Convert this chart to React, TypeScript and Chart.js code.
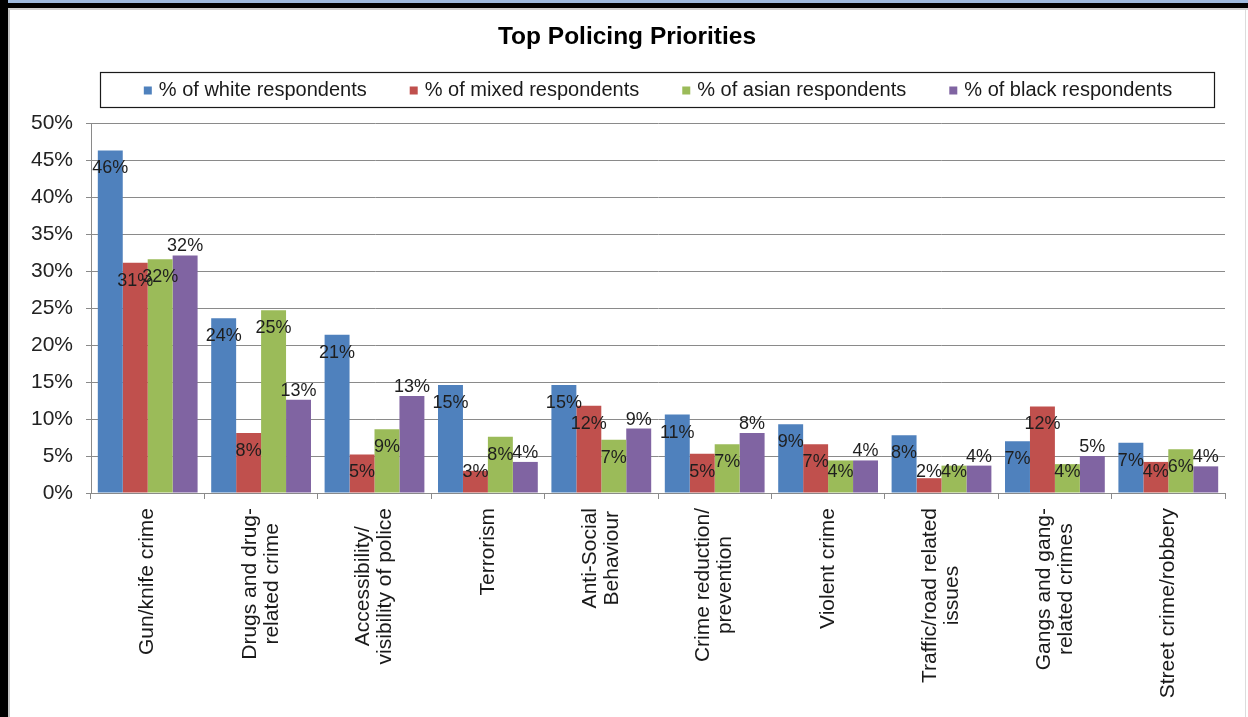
import React, { useEffect, useRef } from "react";
import { Chart, registerables } from "chart.js";

Chart.register(...registerables);

const titleText = "Top Policing Priorities";

const categories: (string | string[])[] = [
  "Gun/knife crime",
  ["Drugs and drug-", "related crime"],
  ["Accessibility/", "visibility of police"],
  "Terrorism",
  ["Anti-Social", "Behaviour"],
  ["Crime reduction/", "prevention"],
  "Violent crime",
  ["Traffic/road related", "issues"],
  ["Gangs and gang-", "related crimes"],
  "Street crime/robbery",
];

const seriesNames = [
  "% of white respondents",
  "% of mixed respondents",
  "% of asian respondents",
  "% of black respondents",
];

const whiteValues = [46.3, 23.6, 21.4, 14.6, 14.6, 10.6, 9.3, 7.8, 7.0, 6.8];
const mixedValues = [31.1, 8.1, 5.2, 3.0, 11.8, 5.3, 6.6, 2.0, 11.7, 4.2];
const asianValues = [31.6, 24.7, 8.6, 7.6, 7.2, 6.6, 4.4, 3.7, 3.9, 5.9];
const blackValues = [32.1, 12.6, 13.1, 4.2, 8.7, 8.1, 4.4, 3.7, 5.0, 3.6];

const yTickValues = [0, 5, 10, 15, 20, 25, 30, 35, 40, 45, 50];

const seriesColors = ["#4F81BD", "#C0504D", "#9BBB59", "#8064A2"];
const labelAnchors = ["inside", "inside", "inside", "outside"];

const FONT = '"Liberation Sans", Arial, sans-serif';

const dataLabelPlugin = {
  id: "dataLabels",
  afterDatasetsDraw(chart: any) {
    const ctx = chart.ctx;
    ctx.save();
    ctx.font = `18px ${FONT}`;
    ctx.fillStyle = "#1e1e1e";
    ctx.textAlign = "center";
    ctx.textBaseline = "middle";
    chart.data.datasets.forEach((ds: any, di: number) => {
      const meta = chart.getDatasetMeta(di);
      meta.data.forEach((bar: any, i: number) => {
        const v = ds.data[i];
        const y =
          ds.labelAnchor === "outside"
            ? bar.y - 9
            : Math.min(bar.y + 18, bar.base - 20);
        ctx.fillText(Math.round(v) + "%", bar.x, y);
      });
    });
    ctx.restore();
  },
};

const xLabelPlugin = {
  id: "xLabels",
  afterDraw(chart: any) {
    const { ctx } = chart;
    const sx = chart.scales.x;
    ctx.save();
    ctx.font = `21px ${FONT}`;
    ctx.fillStyle = "#1a1a1a";
    ctx.textAlign = "center";
    ctx.textBaseline = "middle";
    const lh = 22;
    chart.data.labels.forEach((lab: any, i: number) => {
      const lines: string[] = Array.isArray(lab) ? lab : [lab];
      const maxW = Math.max(...lines.map((l) => ctx.measureText(l).width));
      const x = sx.getPixelForTick(i);
      const top = sx.top + 15;
      ctx.save();
      ctx.translate(x, top + maxW / 2);
      ctx.rotate(-Math.PI / 2);
      lines.forEach((l, j) => {
        ctx.fillText(l, 0, (j - (lines.length - 1) / 2) * lh);
      });
      ctx.restore();
    });
    ctx.restore();
  },
};

const boxLegendPlugin = {
  id: "boxLegend",
  afterDraw(chart: any) {
    const { ctx, chartArea } = chart;
    const left = chartArea.left + 9;
    const right = chartArea.right - 11;
    const top = chartArea.top - 51;
    const bottom = chartArea.top - 16;
    ctx.save();
    ctx.strokeStyle = "#1a1a1a";
    ctx.lineWidth = 1.2;
    ctx.strokeRect(left + 0.5, top + 0.5, right - left, bottom - top);
    ctx.font = `20px ${FONT}`;
    ctx.textBaseline = "middle";
    ctx.textAlign = "left";
    const marker = 8;
    const markerGap = 7;
    const itemGap = 43;
    const items = chart.data.datasets.map((ds: any) => ({
      text: ds.label,
      color: ds.backgroundColor,
      w: marker + markerGap + ctx.measureText(ds.label).width,
    }));
    const total =
      items.reduce((s: number, it: any) => s + it.w, 0) +
      itemGap * (items.length - 1);
    let x = (chartArea.left + chartArea.right) / 2 - total / 2;
    const cy = (top + bottom) / 2 + 1;
    items.forEach((it: any) => {
      ctx.fillStyle = it.color;
      ctx.fillRect(x, cy - marker / 2, marker, marker);
      ctx.fillStyle = "#1a1a1a";
      ctx.fillText(it.text, x + marker + markerGap, cy);
      x += it.w + itemGap;
    });
    ctx.restore();
  },
};

export default function App() {
  const canvasRef = useRef<HTMLCanvasElement | null>(null);

  useEffect(() => {
    if (!canvasRef.current) return;
    const valueSets = [whiteValues, mixedValues, asianValues, blackValues];
    const chart = new Chart(canvasRef.current, {
      type: "bar",
      data: {
        labels: categories,
        datasets: seriesNames.map((name, i) => ({
          label: name,
          data: valueSets[i],
          backgroundColor: seriesColors[i],
          borderWidth: 0,
          categoryPercentage: 0.88,
          barPercentage: 1.0,
          labelAnchor: labelAnchors[i],
        })) as any,
      },
      options: {
        responsive: false,
        animation: false,
        layout: { padding: { left: 19, right: 19, top: 0, bottom: 0 } },
        plugins: {
          legend: { display: false },
          tooltip: { enabled: false },
          title: {
            display: true,
            text: titleText,
            color: "#000",
            font: { family: FONT, size: 24.5, weight: "bold", lineHeight: 1.2 },
            padding: { top: 13, bottom: 70.6 },
          },
        },
        scales: {
          x: {
            grid: {
              offset: true,
              drawOnChartArea: false,
              drawTicks: true,
              tickLength: 6,
              color: "#8a8a8a",
            },
            border: { display: true, color: "#8a8a8a" },
            ticks: {
              display: false,
              autoSkip: false,
            },
            afterFit: (scale: any) => {
              scale.height = 224;
            },
          },
          y: {
            min: 0,
            max: 50,
            afterBuildTicks: (scale: any) => {
              scale.ticks = yTickValues.map((v) => ({ value: v }));
            },
            grid: {
              color: "#8a8a8a",
              drawTicks: true,
              tickLength: 5,
            },
            border: { display: true, color: "#8a8a8a" },
            ticks: {
              padding: 13,
              color: "#222",
              font: { family: FONT, size: 21 },
              callback: (v: any) => v + "%",
            },
            afterFit: (scale: any) => {
              scale.width = 62;
            },
          },
        },
      },
      plugins: [dataLabelPlugin, xLabelPlugin, boxLegendPlugin],
    } as any);
    return () => chart.destroy();
  }, []);

  return (
    <div
      style={{
        position: "fixed",
        left: 0,
        top: 0,
        width: 1248,
        height: 717,
        background: "#000",
        overflow: "hidden",
      }}
    >
      <div
        style={{
          position: "absolute",
          left: 8,
          top: 0,
          width: 1240,
          height: 3,
          background: "#9fbade",
        }}
      />
      <div
        style={{
          position: "absolute",
          left: 8,
          top: 8,
          width: 1240,
          height: 709,
          background: "#fff",
          boxSizing: "border-box",
          borderLeft: "2px solid #c4c4c4",
          borderTop: "2px solid #cfcfcf",
        }}
      />
      <div
        style={{
          position: "absolute",
          left: 1245,
          top: 10,
          width: 1,
          height: 707,
          background: "#dcdcdc",
        }}
      />
      <canvas
        ref={canvasRef}
        width={1234}
        height={707}
        style={{ position: "absolute", left: 10, top: 10, width: 1234, height: 707 }}
      />
    </div>
  );
}
